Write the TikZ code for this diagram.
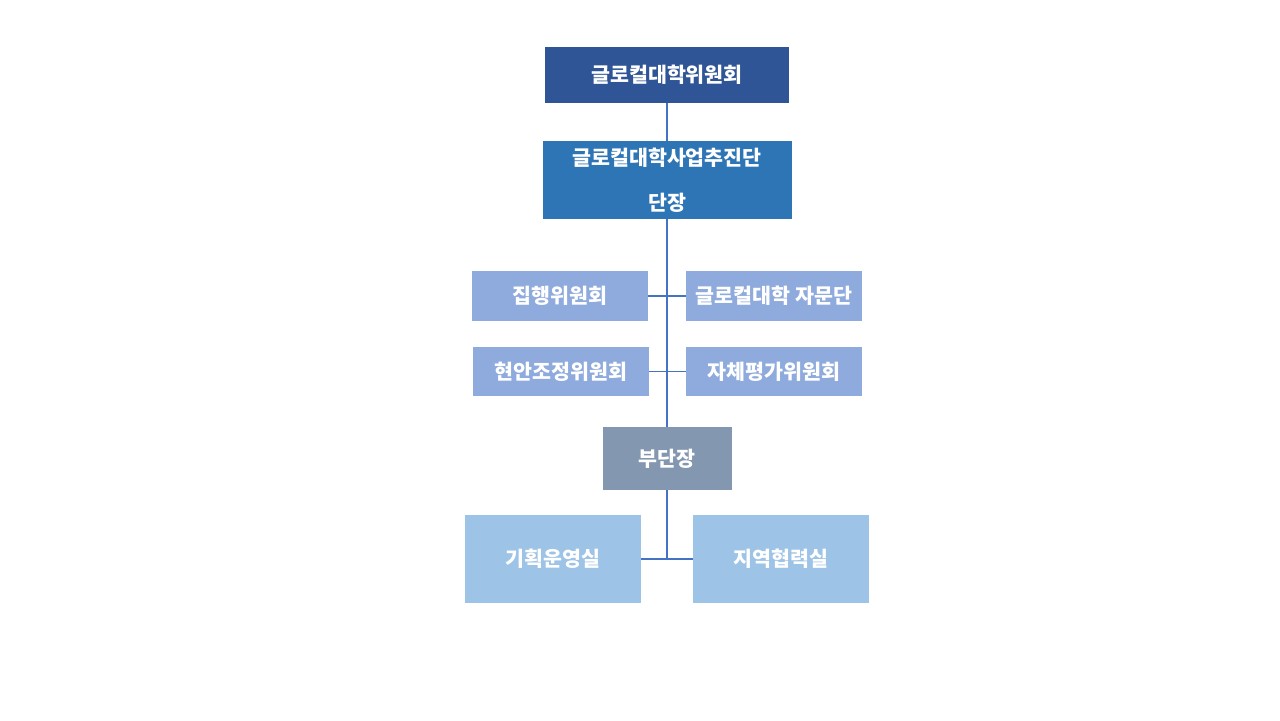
\documentclass[tikz,border=0pt]{standalone}
\usepackage{fontspec}
\newfontfamily\kr{Noto Sans CJK KR}
\usetikzlibrary{positioning}
\definecolor{boardblue}{HTML}{2F5597}
\definecolor{headblue}{HTML}{2E75B6}
\definecolor{cmtblue}{HTML}{8FAADC}
\definecolor{deputygray}{HTML}{8497B0}
\definecolor{officeblue}{HTML}{9DC3E6}
\definecolor{linkblue}{HTML}{4472C4}

\begin{document}
\begin{tikzpicture}[x=0.5pt, y=-0.5pt,
    box/.style={rectangle, inner sep=0pt, text=white, font=\kr\bfseries\fontsize{10.3}{11.5}\selectfont, align=center},
    link/.style={draw=linkblue, line width=0.6pt}]
  \useasboundingbox (0,0) rectangle (1280,720);
  \node[box, fill=boardblue, minimum width=122pt, minimum height=28pt] (board) at (667,75) {글로컬대학위원회};
  \node[box, fill=headblue, minimum width=124.5pt, minimum height=39pt] (head) at (667,180) {글로컬대학사업추진단\\[11pt]단장};
  \node[box, fill=cmtblue, minimum width=88pt, minimum height=25pt] (exec) at (560,296) {집행위원회};
  \node[box, fill=cmtblue, minimum width=88pt, minimum height=25pt] (advis) at (774,296) {글로컬대학 자문단};
  \node[box, fill=cmtblue, minimum width=88pt, minimum height=24.5pt] (issue) at (561,371.5) {현안조정위원회};
  \node[box, fill=cmtblue, minimum width=88pt, minimum height=24.5pt] (selfeval) at (774,371.5) {자체평가위원회};
  \node[box, fill=deputygray, minimum width=64.5pt, minimum height=31.5pt] (deputy) at (667,458.5) {부단장};
  \node[box, fill=officeblue, minimum width=88pt, minimum height=44pt] (plan) at (553,559) {기획운영실};
  \node[box, fill=officeblue, minimum width=88pt, minimum height=44pt] (region) at (781,559) {지역협력실};
  \coordinate (fork) at (667,559);
  % 연결선
  \draw[link] (board.south) -- (head.north);
  \draw[link] (head.south) -- (deputy.north);
  \draw[link] (exec.east) -- (advis.west);
  \draw[link] (issue.east) -- (selfeval.west);
  \draw[link] (deputy.south) -- (fork);
  \draw[link] (plan.east) -- (region.west);
\end{tikzpicture}
\end{document}
